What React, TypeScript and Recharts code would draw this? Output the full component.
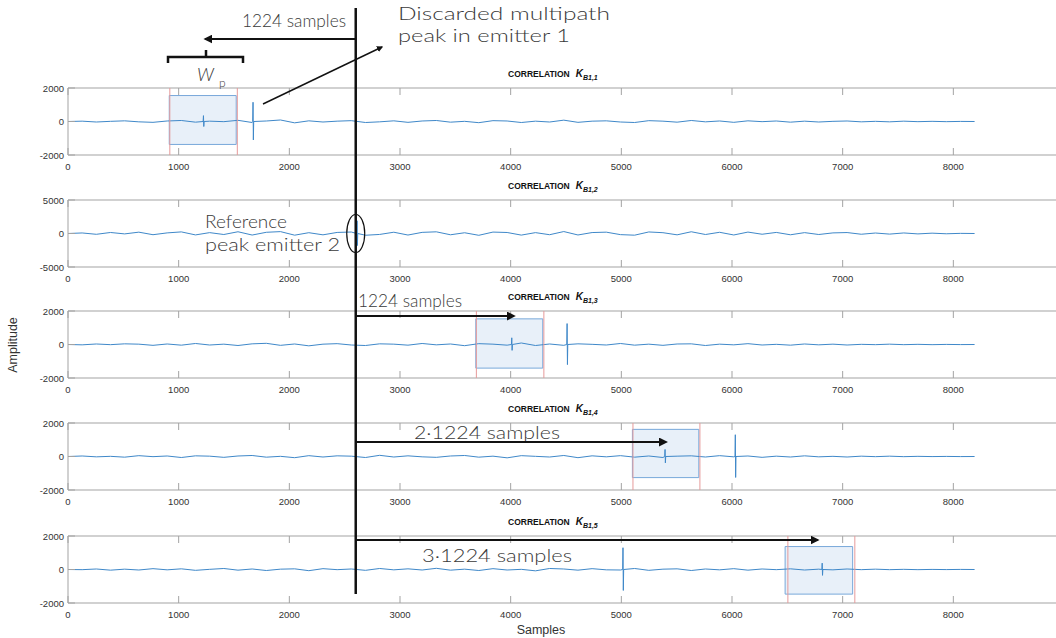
import React from 'react'
import { LineChart, Line, XAxis, YAxis, ReferenceArea, ReferenceLine } from 'recharts'

// sample grid shared by all five correlations (the peaks are added on top)
const SAMPLE_GRID = [
  0, 128, 256, 384, 512, 640, 768, 896, 1024, 1152, 1280, 1408, 1536,
  1664, 1792, 1920, 2048, 2176, 2304, 2432, 2560, 2688, 2816, 2944, 3072, 3200,
  3328, 3456, 3584, 3712, 3840, 3968, 4096, 4224, 4352, 4480, 4608, 4736, 4864,
  4992, 5120, 5248, 5376, 5504, 5632, 5760, 5888, 6016, 6144, 6272, 6400, 6528,
  6656, 6784, 6912, 7040, 7168, 7296, 7424, 7552, 7680, 7808, 7936, 8064, 8192,
]

const NOISE_1 = [
  0, 20, -30, 10, 40, -20, -50, 30, 60, -40, 20, -10, 70,
  -60, 30, 90, -80, 40, -30, 20, 50, -60, -20, 40, -50, 30,
  60, -40, 10, -70, 50, 30, -60, 20, -30, 80, -50, 20, 40,
  -30, -60, 50, 20, -40, 60, -20, 30, -50, 40, -10, 30, -40,
  20, -30, 10, 30, -20, 10, -20, 20, -10, 10, -10, 5, 0,
]
const NOISE_2 = [
  0, 80, -120, 150, -60, 200, -180, 90, 240, -210, 130, -150, 260,
  -230, 180, 280, -250, 120, -200, 160, 220, -260, -140, 190, -230, 170,
  250, -190, 110, -270, 210, 150, -240, 130, -180, 290, -220, 140, 200,
  -170, -250, 230, 120, -200, 260, -150, 180, -220, 210, -110, 160, -190,
  130, -150, 90, 140, -110, 70, -90, 80, -60, 50, -40, 20, 0,
]
const NOISE_3 = [
  0, -20, 30, -10, 40, 20, -50, 30, -40, 60, -30, 20, -60,
  40, 70, -50, 30, -80, 20, 50, -30, -60, 40, 20, -40, 60,
  -20, 30, -70, 50, 20, -40, 90, -60, 30, -50, 40, 10, -30,
  60, -40, 20, -50, 30, 40, -60, 20, -20, 50, -30, 10, -40,
  30, -20, 20, -30, 10, -10, 20, -10, 10, -10, 5, -5, 0,
]
const NOISE_4 = [
  0, 30, -20, 10, -40, 50, -10, 30, -60, 40, 20, -50, 30,
  60, -40, 10, -70, 50, -30, 40, 20, -60, 70, -30, 40, -20,
  -50, 30, 60, -40, 20, -80, 50, 10, -30, 60, -70, 40, -20,
  50, -40, 30, -60, 20, 40, -30, 50, -20, 30, -50, 20, -30,
  40, -20, 10, -30, 20, -10, 20, -10, 10, -5, 5, -5, 0,
]
const NOISE_5 = [
  0, -10, 30, -40, 20, -30, 50, -20, 40, -50, 10, 60, -40,
  30, -60, 20, 40, -70, 50, -10, 30, -50, 60, -20, 40, -30,
  70, -40, 20, -60, 50, -30, 10, -80, 60, 30, -40, 50, -20,
  -30, 60, -50, 20, 40, -60, 30, -20, 50, -40, 30, -10, 40,
  -30, 20, -20, 30, -10, 20, -10, 10, -10, 5, -5, 5, 0,
]

// correlation peaks: sample, positive and negative excursion
const PEAKS_1 = [{ at: 1224, hi: 350, lo: -300 }, { at: 1672, hi: 1150, lo: -1100 }]
const PEAKS_2 = [{ at: 2612, hi: 1900, lo: -1800 }]
const PEAKS_3 = [{ at: 4010, hi: 400, lo: -350 }, { at: 4510, hi: 1250, lo: -1200 }]
const PEAKS_4 = [{ at: 5395, hi: 420, lo: -380 }, { at: 6030, hi: 1300, lo: -1250 }]
const PEAKS_5 = [{ at: 5015, hi: 1300, lo: -1250 }, { at: 6815, hi: 380, lo: -350 }]

// search windows W_p and their red limit markers
const WINDOW_1 = { start: 915, end: 1520, top: 1550, bottom: -1370 }
const WINDOW_3 = { start: 3685, end: 4290, top: 1530, bottom: -1410 }
const WINDOW_4 = { start: 5100, end: 5700, top: 1620, bottom: -1260 }
const WINDOW_5 = { start: 6480, end: 7090, top: 1370, bottom: -1470 }
const MARKS_1 = [920, 1530]
const MARKS_3 = [3690, 4300]
const MARKS_4 = [5105, 5710]
const MARKS_5 = [6505, 7110]

const X_TICKS = [0, 1000, 2000, 3000, 4000, 5000, 6000, 7000, 8000]
const Y_LIMITS = [2000, 5000, 2000, 2000, 2000]
const TITLES = ['1', '2', '3', '4', '5']

// arrow targets (samples) for the shift annotations
const REF_SAMPLE = 2600
const BACK_ARROW_TIP = 1240
const SHIFT_TIPS = [4030, 5405, 6775]

const PANELS = [
  { noise: NOISE_1, peaks: PEAKS_1, win: WINDOW_1, marks: MARKS_1 },
  { noise: NOISE_2, peaks: PEAKS_2, win: null, marks: [] as number[] },
  { noise: NOISE_3, peaks: PEAKS_3, win: WINDOW_3, marks: MARKS_3 },
  { noise: NOISE_4, peaks: PEAKS_4, win: WINDOW_4, marks: MARKS_4 },
  { noise: NOISE_5, peaks: PEAKS_5, win: WINDOW_5, marks: MARKS_5 },
]

const FRAME_TOPS = [88, 200, 311, 423, 536]
const PLOT_H = 67
const PLOT_LEFT = 68
const PLOT_W = 996
const X_MAX = 9000
const sx = (s: number) => PLOT_LEFT + (s / X_MAX) * PLOT_W

const AXIS_FONT = '"Liberation Sans", Arial, sans-serif'
const NOTE_FONT = 'Lato, "DejaVu Sans", sans-serif'
const FRAME = '#a3a3a3'

function buildSeries(noise: number[], peaks: { at: number; hi: number; lo: number }[]) {
  const pts = SAMPLE_GRID.map((s, i) => ({ s, v: noise[i] ?? 0 }))
  peaks.forEach(p => {
    pts.push({ s: p.at - 3, v: 0 }, { s: p.at, v: p.hi }, { s: p.at + 3, v: p.lo }, { s: p.at + 6, v: 0 })
  })
  return pts.sort((a, b) => a.s - b.s)
}

const XTick = (props: any) => {
  const { x, y, payload } = props
  return (
    <g>
      <line x1={x} y1={y} x2={x} y2={y - 7} stroke={FRAME} />
      <line x1={x} y1={y - PLOT_H} x2={x} y2={y - PLOT_H + 7} stroke={FRAME} />
      <text x={x} y={y + 15} textAnchor="middle" fontSize={9.5} fill="#333" fontFamily={AXIS_FONT}>
        {payload.value}
      </text>
    </g>
  )
}

const YTick = (props: any) => {
  const { x, y, payload } = props
  return (
    <g>
      <line x1={x} y1={y} x2={x + 7} y2={y} stroke={FRAME} />
      <text x={x - 4} y={y + 3.5} textAnchor="end" fontSize={9.5} fill="#333" fontFamily={AXIS_FONT}>
        {payload.value}
      </text>
    </g>
  )
}

function Panel({ idx }: { idx: number }) {
  const p = PANELS[idx]
  const lim = Y_LIMITS[idx]
  const data = buildSeries(p.noise, p.peaks)
  return (
    <div style={{ position: 'absolute', left: 0, top: FRAME_TOPS[idx] - 20 }}>
      <LineChart width={PLOT_LEFT + PLOT_W + 16} height={20 + PLOT_H + 22} data={data}
        margin={{ top: 20, right: 16, left: 0, bottom: 0 }}>
        <XAxis dataKey="s" type="number" domain={[0, X_MAX]} ticks={X_TICKS} allowDataOverflow
          height={22} tickSize={0} tickMargin={0} axisLine={false} tickLine={false} tick={<XTick />} />
        <YAxis type="number" domain={[-lim, lim]} ticks={[-lim, 0, lim]} allowDataOverflow
          width={PLOT_LEFT} tickSize={0} tickMargin={0} axisLine={false} tickLine={false} tick={<YTick />} />
        <ReferenceArea x1={0} x2={X_MAX} y1={-lim} y2={lim} fill="none" stroke={FRAME} strokeWidth={1} />
        <Line type="linear" dataKey="v" stroke="#3f88c9" strokeWidth={1} dot={false} isAnimationActive={false} />
        {p.win && (
          <ReferenceArea x1={p.win.start} x2={p.win.end} y1={p.win.bottom} y2={p.win.top}
            fill="#e4edf8" fillOpacity={0.85} stroke="#78a8da" strokeWidth={1} />
        )}
        {p.marks.map(m => (
          <ReferenceLine key={m} x={m} stroke="#e69a9a" strokeWidth={1} />
        ))}
      </LineChart>
    </div>
  )
}

function Annotations() {
  const xr = sx(REF_SAMPLE)
  const ink = '#111'
  const note = { fontFamily: NOTE_FONT, fontWeight: 300, fontSize: 17, fill: '#3a3a3a' } as const
  return (
    <svg width={1056} height={638} style={{ position: 'absolute', left: 0, top: 0 }}>
      <defs>
        <marker id="ah" viewBox="0 0 10 10" refX="8" refY="5" markerWidth="4.5" markerHeight="4.5"
          orient="auto-start-reverse">
          <path d="M0,0 L10,5 L0,10 z" fill={ink} />
        </marker>
      </defs>

      {FRAME_TOPS.map((t, i) => (
        <text key={i} x={508} y={t - 11} fontFamily={AXIS_FONT} fontWeight="bold" fontSize={8.5} fill="#111">
          CORRELATION
          <tspan dx={6} fontStyle="italic" fontSize={10}>K</tspan>
          <tspan fontStyle="italic" fontSize={7} dy={3}>{'B1,' + TITLES[i]}</tspan>
        </text>
      ))}

      <text x={17} y={345} transform="rotate(-90 17 345)" textAnchor="middle" fontSize={12.5}
        fontFamily={AXIS_FONT} fill="#333">Amplitude</text>
      <text x={541} y={634} textAnchor="middle" fontSize={12.5} fontFamily={AXIS_FONT} fill="#333">Samples</text>

      {/* reference peak line */}
      <line x1={xr} y1={8} x2={xr} y2={594} stroke={ink} strokeWidth={2.5} />
      <ellipse cx={xr} cy={FRAME_TOPS[1] + PLOT_H / 2} rx={9} ry={19} fill="none" stroke={ink} strokeWidth={1.2} />

      {/* emitter 1 back shift */}
      <text x={242} y={27} textLength={104} lengthAdjust="spacingAndGlyphs" {...note}>1224 samples</text>
      <line x1={xr} y1={39} x2={sx(BACK_ARROW_TIP)} y2={39} stroke={ink} strokeWidth={2} markerEnd="url(#ah)" />
      <path d={`M168,63 L168,57 L243,57 L243,63 M206,57 L206,50`} fill="none" stroke={ink} strokeWidth={2.5} />
      <text x={197} y={81} {...note} fontStyle="italic" fontSize={18}>W</text>
      <text x={219} y={87} {...note} fontSize={12}>p</text>

      <text x={398} y={20} textLength={212} lengthAdjust="spacingAndGlyphs" {...note}>Discarded multipath</text>
      <text x={398} y={42} textLength={172} lengthAdjust="spacingAndGlyphs" {...note}>peak in emitter 1</text>
      <line x1={263} y1={104} x2={382} y2={47} stroke={ink} strokeWidth={1.4} markerEnd="url(#ah)" />

      <text x={205} y={228} textLength={82} lengthAdjust="spacingAndGlyphs" {...note}>Reference</text>
      <text x={205} y={251} textLength={135} lengthAdjust="spacingAndGlyphs" {...note}>peak emitter 2</text>

      {/* forward shifts */}
      <text x={358} y={307} textLength={104} lengthAdjust="spacingAndGlyphs" {...note}>1224 samples</text>
      <line x1={xr} y1={316} x2={sx(SHIFT_TIPS[0])} y2={316} stroke={ink} strokeWidth={2} markerEnd="url(#ah)" />
      <text x={414} y={439} textLength={146} lengthAdjust="spacingAndGlyphs" {...note}>2·1224 samples</text>
      <line x1={xr} y1={442} x2={sx(SHIFT_TIPS[1])} y2={442} stroke={ink} strokeWidth={2} markerEnd="url(#ah)" />
      <line x1={xr} y1={540} x2={sx(SHIFT_TIPS[2])} y2={540} stroke={ink} strokeWidth={2} markerEnd="url(#ah)" />
      <text x={422} y={562} textLength={150} lengthAdjust="spacingAndGlyphs" {...note}>3·1224 samples</text>
    </svg>
  )
}

export default function App() {
  return (
    <div style={{ position: 'absolute', left: 0, top: 0, width: 1056, height: 638, overflow: 'hidden', background: '#fff' }}>
      {FRAME_TOPS.map((_, i) => <Panel key={i} idx={i} />)}
      <Annotations />
    </div>
  )
}
